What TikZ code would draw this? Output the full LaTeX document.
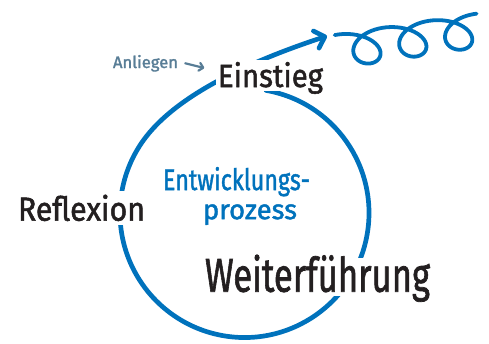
\documentclass[tikz,border=0pt]{standalone}
\usepackage{fontspec}
\setmainfont{Fira Sans}
\newfontfamily\markerfont[FakeBold=1.6]{Fira Sans}
\usepackage{xcolor}
\usetikzlibrary{arrows.meta}
\definecolor{procblue}{RGB}{0,114,188}
\definecolor{inkblack}{RGB}{35,31,32}
\definecolor{anlgrey}{RGB}{88,125,150}

\begin{document}
\begin{tikzpicture}[
  x=1pt, y=-1pt,
  every node/.style={inner sep=0pt,font=\markerfont},
  stage/.style={text=inkblack,anchor=base},
  cutout/.style={fill=white,inner xsep=2pt,inner ysep=4pt,text depth=0pt},
  procText/.style={text=procblue,align=center},
  loopLine/.style={line width=4.7pt,procblue,line cap=round,-{Straight Barb[round,length=9pt,width=18pt]}},
  curlLine/.style={line width=3.8pt,procblue,line cap=round},
  anlArrow/.style={line width=2.2pt,anlgrey,line cap=round,-{Straight Barb[round,length=4pt,width=8pt]}}]

  \useasboundingbox (0,0) rectangle (489,343);

  % the big loop, ending in the arrow
  \coordinate (loopStart) at (266.1,90.4);
  \coordinate (loopTip) at (327,36);
  \draw [loopLine] (loopStart) arc[start angle=-80,end angle=215,radius=124.5]
    .. controls (176.9,92.5) and (258.4,58.6) .. (loopTip);

  % curls
  \draw [curlLine] plot[domain=-0.3:18.69,samples=160,smooth]
    ({344+7.3*\x+24*sin(\x r)},{50.5-16.5*cos(\x r)-1.1*\x});

  % stages
  \node [stage,cutout,text height=23pt] (ein) at (270.5,87) {\resizebox{105pt}{25pt}{Einstieg}};
  \node [stage,cutout] (refl) at (81.5,220.7) {\resizebox{127pt}{26pt}{Reflexion}};
  \node [stage,cutout,text height=30pt] (weit) at (317.5,291.7) {\resizebox{225pt}{37pt}{Weiterführung}};
  \node [procText] (proc) at (236.5,196)
    {\resizebox{147pt}{23pt}{Entwicklungs-}\\[7pt]\hspace*{27pt}\resizebox{94pt}{!}{prozess}};

  \node [stage,text=anlgrey] (anl) at (145.5,68) {\resizebox{65pt}{!}{Anliegen}};
  \draw [anlArrow] ([xshift=7pt]anl.east) -- ([xshift=-11.5pt,yshift=7.5pt]ein.west);
\end{tikzpicture}
\end{document}
